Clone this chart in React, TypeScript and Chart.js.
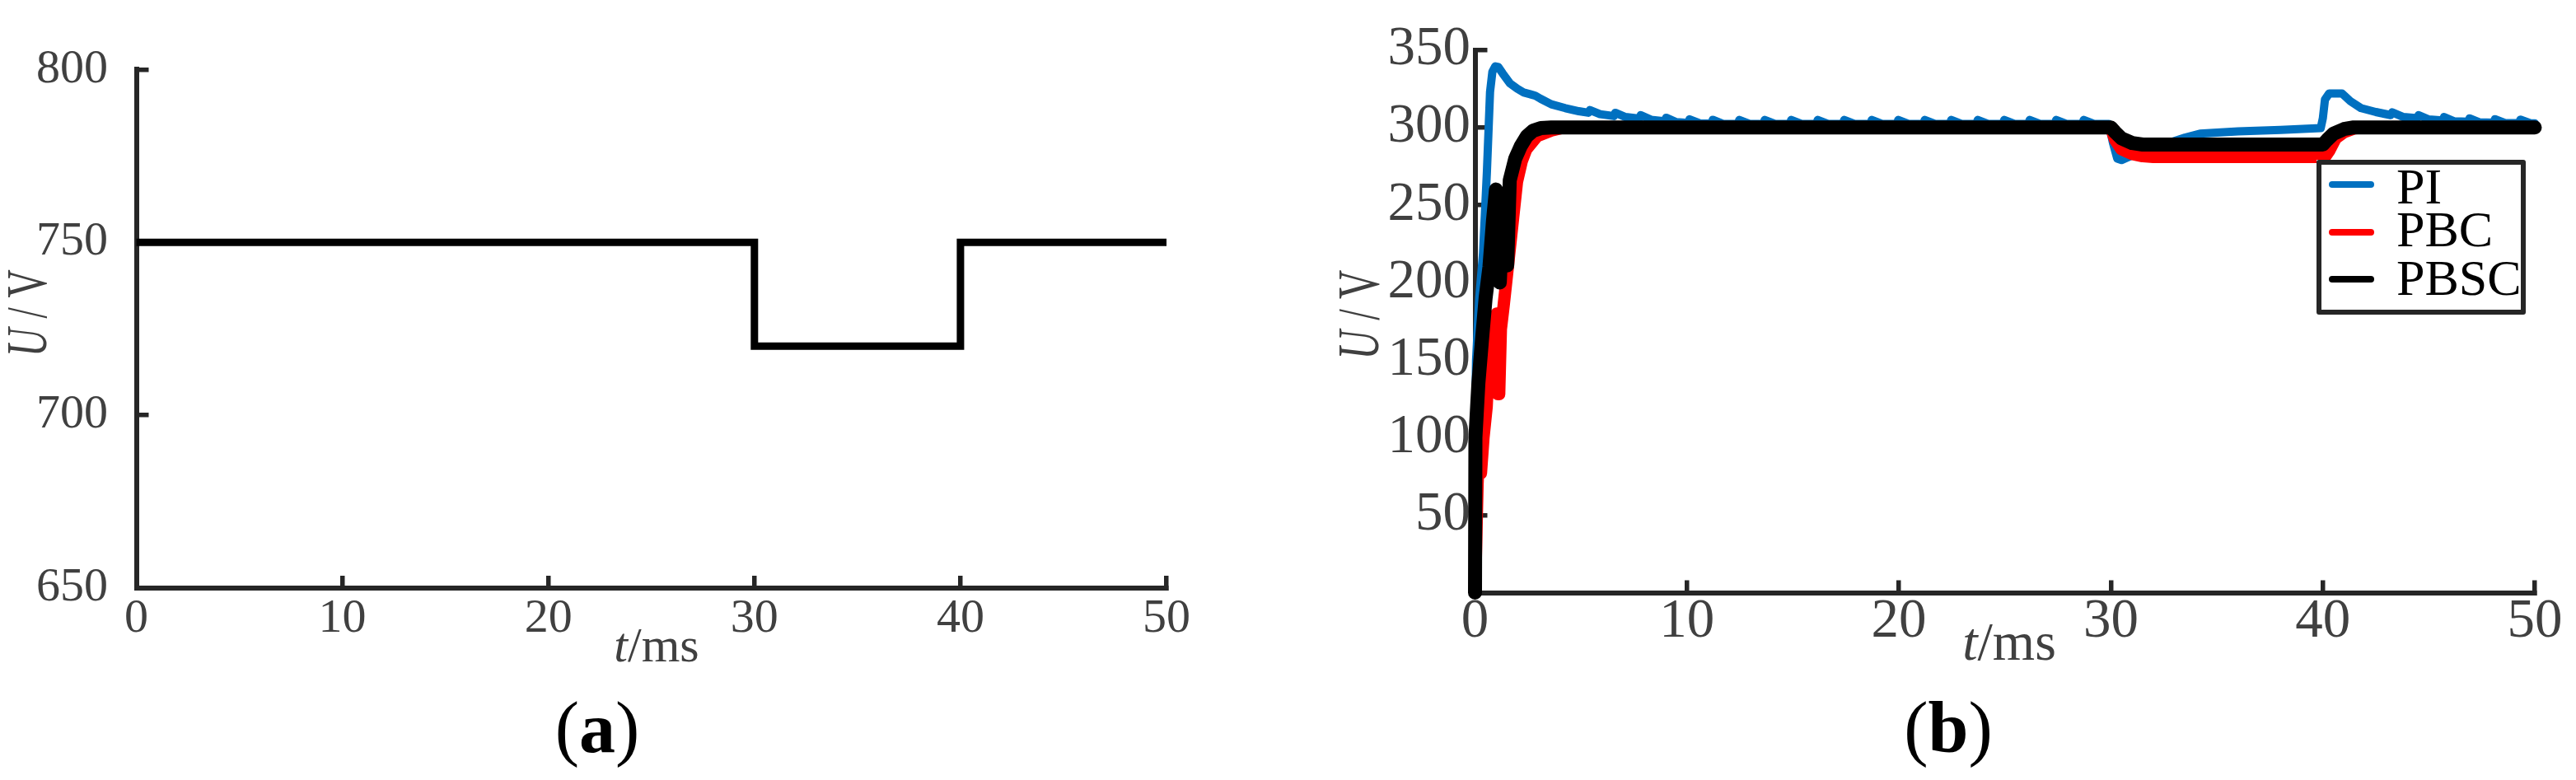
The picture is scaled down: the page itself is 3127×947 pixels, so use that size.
import React, { useEffect, useRef } from "react";
import { Chart, registerables } from "chart.js";

Chart.register(...registerables);

const FONT = "'Liberation Serif', 'Times New Roman', serif";
const AXIS_COLOR = "#262626";
const LABEL_COLOR = "#404040";
const H = 947;

// ---------------- data ----------------
const timeTicks = [0, 10, 20, 30, 40, 50];
const refTicks = [650, 700, 750, 800];
const outTicks = [50, 100, 150, 200, 250, 300, 350];

// panel (a): reference voltage step
const refTime = [0, 30, 30, 40, 40, 50];
const refVolt = [750, 750, 720, 720, 750, 750];

// panel (b): output voltage, [t (ms), U (V)]
const piData: [number, number][] = [
  [0, 100], [0.05, 150], [0.2, 190], [0.38, 219], [0.47, 245], [0.56, 271], [0.71, 323],
  [0.82, 336], [0.96, 339.5], [1.1, 339], [1.3, 335], [1.65, 328.5], [2.0, 325], [2.31, 322.5],
  [2.6, 321.5], [2.85, 320.5], [3.1, 318.5], [3.6, 315], [4.26, 312.5], [4.9, 310.5],
  [5.35, 309.5], [5.42, 311.3], [5.9, 308.6],
  [6.55, 307.4], [6.62, 309.5], [7.1, 306.8],
  [7.75, 305.8], [7.82, 308], [8.3, 305],
  [8.95, 304], [9.02, 306.3], [9.5, 303.5],
  [10.05, 303], [10.12, 305.3], [10.6, 302.7],
  [11.15, 302.5], [11.22, 305], [11.7, 302.4],
  [12.4, 302.3], [12.47, 304.9], [12.95, 302.3],
  [13.6, 302.3], [13.67, 304.9], [14.15, 302.3],
  [14.85, 302.3], [14.92, 304.9], [15.4, 302.3],
  [16.1, 302.3], [16.17, 304.9], [16.65, 302.3],
  [17.35, 302.3], [17.42, 304.9], [17.9, 302.3],
  [18.65, 302.3], [18.72, 304.9], [19.2, 302.3],
  [19.9, 302.3], [19.97, 304.9], [20.45, 302.3],
  [21.15, 302.3], [21.22, 304.9], [21.7, 302.3],
  [22.4, 302.3], [22.47, 304.9], [22.95, 302.3],
  [23.65, 302.3], [23.72, 304.9], [24.2, 302.3],
  [24.9, 302.3], [24.97, 304.9], [25.45, 302.3],
  [26.1, 302.3], [26.17, 304.9], [26.65, 302.3],
  [27.35, 302.3], [27.42, 304.9], [27.9, 302.3],
  [28.65, 302.3], [28.72, 304.9], [29.2, 302.3],
  [29.9, 302.3], [30.1, 290], [30.3, 280], [30.5, 279], [31.0, 282], [32.0, 286],
  [32.7, 290], [33.5, 293.5], [34.2, 296], [36.0, 297.5], [38.0, 298.5], [39.9, 299.6],
  [40.0, 306], [40.1, 318], [40.3, 322], [40.9, 322], [41.3, 317], [41.8, 312.5],
  [42.5, 310], [43.2, 308], [43.27, 309.8], [43.8, 306.8],
  [44.45, 306], [44.52, 308], [45.0, 305.2],
  [45.65, 304.6], [45.72, 306.8], [46.2, 304],
  [46.85, 303.7], [46.92, 305.9], [47.4, 303.3],
  [48.05, 303.1], [48.12, 305.4], [48.6, 302.9],
  [49.25, 302.8], [49.32, 305.1], [49.8, 302.7], [50.0, 302.7],
];

const pbcData: [number, number][] = [
  [0, 0], [0.12, 70], [0.2, 95], [0.28, 77], [0.4, 100], [0.55, 120], [0.72, 170],
  [0.85, 176], [1.02, 180], [1.08, 128], [1.14, 128], [1.22, 170], [1.35, 185],
  [1.54, 209], [1.8, 242], [1.98, 265], [2.2, 278], [2.42, 286], [2.93, 294.5],
  [3.6, 298], [4.2, 300], [30, 300], [30.2, 292], [30.5, 286], [31, 283], [31.5, 281.5],
  [32, 281], [40.1, 281], [40.3, 285], [40.6, 293], [41, 297], [41.5, 299.5], [42, 300],
  [50, 300],
];

const pbscData: [number, number][] = [
  [0, 0], [0.02, 100], [0.16, 135], [0.33, 163], [0.5, 190], [0.68, 210], [0.85, 240],
  [0.99, 260], [1.17, 200], [1.34, 252], [1.52, 211], [1.64, 266], [1.9, 280],
  [2.16, 288], [2.45, 294.5], [2.75, 298], [3.1, 299.6], [3.6, 300], [30, 300],
  [30.2, 297], [30.5, 293], [31, 290], [31.5, 289], [40, 289], [40.2, 292], [40.5, 296],
  [41, 299], [41.4, 300], [50, 300],
];

const seriesNames = ["PI", "PBC", "PBSC"];
const seriesColors = ["#0070C0", "#FF0000", "#000000"];
const seriesWidths = [10, 15, 17];

// ---------------- plugins ----------------
const annotatePlugin = {
  id: "annotate",
  afterDraw(chart: any, _args: any, opts: any) {
    const ctx: CanvasRenderingContext2D = chart.ctx;
    ctx.save();
    ctx.fillStyle = LABEL_COLOR;
    if (opts.xTitle) {
      const { x, y, size } = opts.xTitle;
      ctx.textBaseline = "alphabetic";
      ctx.textAlign = "left";
      ctx.font = `italic ${size}px ${FONT}`;
      const w1 = ctx.measureText("t").width;
      ctx.font = `${size}px ${FONT}`;
      const w2 = ctx.measureText("/ms").width;
      const sx = x - (w1 + w2) / 2;
      ctx.font = `italic ${size}px ${FONT}`;
      ctx.fillText("t", sx, y);
      ctx.font = `${size}px ${FONT}`;
      ctx.fillText("/ms", sx + w1, y);
    }
    if (opts.yTitle) {
      const { x, y, size, squeeze } = opts.yTitle;
      ctx.save();
      ctx.translate(x, y);
      ctx.rotate(-Math.PI / 2);
      ctx.scale(squeeze, 1);
      ctx.textBaseline = "middle";
      ctx.textAlign = "left";
      ctx.font = `italic ${size}px ${FONT}`;
      const w1 = ctx.measureText("U").width;
      ctx.font = `${size}px ${FONT}`;
      const w2 = ctx.measureText(" / V").width;
      const sx = -(w1 + w2) / 2;
      ctx.font = `italic ${size}px ${FONT}`;
      ctx.fillText("U", sx, 0);
      ctx.font = `${size}px ${FONT}`;
      ctx.fillText(" / V", sx + w1, 0);
      ctx.restore();
    }
    if (opts.tag) {
      const { text, x, y, size } = opts.tag;
      ctx.fillStyle = "#000";
      ctx.textBaseline = "alphabetic";
      ctx.textAlign = "left";
      ctx.font = `${size}px ${FONT}`;
      const wp = ctx.measureText("(").width;
      const wq = ctx.measureText(")").width;
      ctx.font = `bold ${size}px ${FONT}`;
      const wt = ctx.measureText(text).width;
      const sx = x - (wp + wt + wq) / 2;
      ctx.font = `${size}px ${FONT}`;
      ctx.fillText("(", sx, y);
      ctx.font = `bold ${size}px ${FONT}`;
      ctx.fillText(text, sx + wp, y);
      ctx.font = `${size}px ${FONT}`;
      ctx.fillText(")", sx + wp + wt, y);
    }
    ctx.restore();
  },
};

const boxLegendPlugin = {
  id: "boxLegend",
  afterDraw(chart: any, _args: any, opts: any) {
    if (!opts || !opts.box) return;
    const ctx: CanvasRenderingContext2D = chart.ctx;
    const [x1, y1, x2, y2] = opts.box;
    ctx.save();
    ctx.fillStyle = "#fff";
    ctx.fillRect(x1, y1, x2 - x1, y2 - y1);
    ctx.lineWidth = 6;
    ctx.lineJoin = "round";
    ctx.strokeStyle = AXIS_COLOR;
    ctx.strokeRect(x1 + 3, y1 + 3, x2 - x1 - 6, y2 - y1 - 6);
    chart.data.datasets.forEach((ds: any, i: number) => {
      const ly = opts.lineY[i];
      ctx.beginPath();
      ctx.lineWidth = 8;
      ctx.lineCap = "round";
      ctx.strokeStyle = ds.borderColor;
      ctx.moveTo(opts.lineX[0], ly);
      ctx.lineTo(opts.lineX[1], ly);
      ctx.stroke();
      ctx.fillStyle = "#000";
      ctx.font = `${opts.size}px ${FONT}`;
      ctx.textBaseline = "middle";
      ctx.textAlign = "left";
      ctx.fillText(ds.label, opts.textX, opts.textY[i]);
    });
    ctx.restore();
  },
};

// ---------------- scale builders ----------------
function xScale(ticks: number[], size: number, pad: number, height: number) {
  return {
    type: "linear",
    min: 0,
    max: 50,
    afterBuildTicks: (s: any) => {
      s.ticks = ticks.map((v) => ({ value: v }));
    },
    afterFit: (s: any) => {
      s.height = height;
    },
    ticks: {
      font: { family: FONT, size },
      color: LABEL_COLOR,
      padding: pad,
      maxRotation: 0,
      minRotation: 0,
      autoSkip: false,
    },
    grid: {
      drawOnChartArea: false,
      drawTicks: true,
      tickLength: -15,
      color: AXIS_COLOR,
      lineWidth: 5.5,
    },
    border: { display: true, color: AXIS_COLOR, width: 6 },
  };
}

function yScale(ticks: number[], min: number, max: number, size: number, pad: number, width: number) {
  return {
    type: "linear",
    min,
    max,
    afterBuildTicks: (s: any) => {
      s.ticks = ticks.map((v) => ({ value: v }));
    },
    afterFit: (s: any) => {
      s.width = width;
    },
    ticks: {
      font: { family: FONT, size },
      color: LABEL_COLOR,
      padding: pad,
      autoSkip: false,
    },
    grid: {
      drawOnChartArea: false,
      drawTicks: true,
      tickLength: -15,
      color: AXIS_COLOR,
      lineWidth: 5.5,
    },
    border: { display: true, color: AXIS_COLOR, width: 6 },
  };
}

// ---------------- configs ----------------
const WA = 1560;
const WB = 1567;

function configA(): any {
  return {
    type: "line",
    data: {
      datasets: [
        {
          label: "U",
          data: refTime.map((t, i) => ({ x: t, y: refVolt[i] })),
          borderColor: "#000",
          borderWidth: 9,
          pointRadius: 0,
          tension: 0,
          fill: false,
          borderJoinStyle: "miter",
          borderCapStyle: "butt",
          clip: false,
        },
      ],
    },
    options: {
      animation: false,
      responsive: false,
      events: [],
      layout: { padding: { left: 0, top: 43.5, right: WA - 1416, bottom: 0 } },
      plugins: {
        legend: { display: false },
        tooltip: { enabled: false },
        annotate: {
          xTitle: { x: 797, y: 803, size: 60 },
          yTitle: { x: 38, y: 380, size: 70, squeeze: 0.68 },
          tag: { text: "a", x: 725, y: 913, size: 88 },
        },
      },
      scales: {
        x: xScale(timeTicks, 58, 18, H - 714),
        y: yScale(refTicks, 650, 800, 58, 49.5, 165.5),
      },
    },
    plugins: [annotatePlugin],
  };
}

function configB(): any {
  const all = [piData, pbcData, pbscData];
  return {
    type: "line",
    data: {
      datasets: all.map((d, i) => ({
        label: seriesNames[i],
        data: d.map(([t, u]) => ({ x: t, y: u })),
        borderColor: seriesColors[i],
        backgroundColor: seriesColors[i],
        borderWidth: seriesWidths[i],
        pointRadius: 0,
        tension: 0,
        fill: false,
        borderJoinStyle: "round",
        borderCapStyle: "round",
        clip: false,
        order: 3 - i,
      })),
    },
    options: {
      animation: false,
      responsive: false,
      events: [],
      layout: { padding: { left: 0, top: 49, right: WB - 1517, bottom: 0 } },
      plugins: {
        legend: { display: false },
        tooltip: { enabled: false },
        annotate: {
          xTitle: { x: 879, y: 801, size: 66 },
          yTitle: { x: 94, y: 382, size: 72, squeeze: 0.68 },
          tag: { text: "b", x: 805, y: 913, size: 88 },
        },
        boxLegend: {
          box: [1252, 194, 1506, 382],
          lineX: [1271, 1318],
          lineY: [224, 282, 339],
          textX: 1349,
          textY: [231, 283, 342],
          size: 62,
        },
      },
      scales: {
        x: xScale(timeTicks, 67, 11, H - 719.5),
        y: yScale(outTicks, 0, 350, 67, 20.5, 230.5),
      },
    },
    plugins: [annotatePlugin, boxLegendPlugin],
  };
}

function Panel({ make, left, width }: { make: () => any; left: number; width: number }) {
  const ref = useRef<HTMLCanvasElement | null>(null);
  useEffect(() => {
    if (!ref.current) return;
    const chart = new Chart(ref.current, make());
    return () => chart.destroy();
  }, []);
  return (
    <canvas
      ref={ref}
      width={width}
      height={H}
      style={{ position: "absolute", left, top: 0, width, height: H, display: "block" }}
    />
  );
}

export default function App() {
  return (
    <div style={{ position: "absolute", left: 0, top: 0, width: 3127, height: H, background: "#fff", overflow: "hidden" }}>
      <Panel make={configA} left={0} width={WA} />
      <Panel make={configB} left={WA} width={WB} />
    </div>
  );
}
